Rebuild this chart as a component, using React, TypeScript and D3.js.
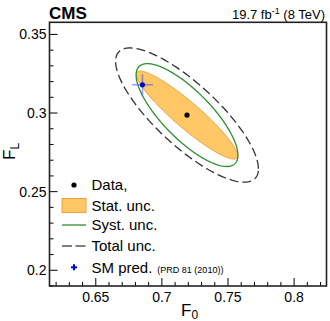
import * as d3 from 'd3';

// measured central value (F0, FL)
const dataPoint = [0.719, 0.2987];
// SM prediction (PRD 81 (2010))
const smPred = [0.6853, 0.318];

// uncertainty contours, drawn back to front
const contourNames = ['total', 'stat', 'syst'];
const sigmaF0 = [0.054, 0.0383, 0.0385];
const sigmaFL = [0.0427, 0.028, 0.0327];
const corr = [-0.8, -0.925, -0.78];

const xTicks = [0.65, 0.7, 0.75, 0.8];
const yTicks = [0.2, 0.25, 0.3, 0.35];

const legendLabels = ['Data,', 'Stat. unc.', 'Syst. unc.', 'Total unc.', 'SM pred.'];

const W = 330;
const H = 321;
const margin = { left: 49.5, right: 3.5, top: 22.3, bottom: 35 };

const font = '"Liberation Sans", Arial, sans-serif';

function App() {
  const x = d3.scaleLinear().domain([0.615, 0.8245]).range([margin.left, W - margin.right]);
  const y = d3.scaleLinear().domain([0.19, 0.3577]).range([H - margin.bottom, margin.top]);

  const line = d3.line<[number, number]>()
    .x(d => x(d[0]))
    .y(d => y(d[1]))
    .curve(d3.curveLinearClosed);

  const ellipse = (i: number) => {
    const pts: [number, number][] = d3.range(0, 240).map(k => {
      const t = (k / 240) * 2 * Math.PI;
      const r = corr[i];
      return [
        dataPoint[0] + sigmaF0[i] * Math.cos(t),
        dataPoint[1] + sigmaFL[i] * (r * Math.cos(t) + Math.sqrt(1 - r * r) * Math.sin(t)),
      ];
    });
    return line(pts) || '';
  };

  const style: Record<string, any> = {
    total: { fill: 'none', stroke: '#333', strokeWidth: 1.3, strokeDasharray: '9,4' },
    stat: { fill: '#ffc765', stroke: '#e9a23b', strokeWidth: 1 },
    syst: { fill: 'none', stroke: '#2f8f2f', strokeWidth: 1.3 },
  };

  const xMinor = d3.range(62, 83).map(v => v / 100);
  const yMinor = d3.range(19, 36).map(v => v / 100);
  const bottom = H - margin.bottom;

  const legY = [185, 205.5, 225, 246, 267.3];
  const legX = 74;

  const cross = (cx: number, cy: number, s: number, op: number) => (
    <g>
      <line x1={cx - s} x2={cx + s} y1={cy} y2={cy} stroke="#3030ff" strokeWidth={1.6} opacity={op} />
      <line x1={cx} x2={cx} y1={cy - s} y2={cy + s} stroke="#3030ff" strokeWidth={1.6} opacity={op} />
      <circle cx={cx} cy={cy} r={2.6} fill="#0000cc" />
    </g>
  );

  return (
    <svg width={W} height={H} style={{ position: 'absolute', left: 0, top: 0 }} fontFamily={font}>
      <rect width={W} height={H} fill="white" />

      {contourNames.map((n, i) => (
        <path key={n} d={ellipse(i)} {...style[n]} />
      ))}

      <circle cx={x(dataPoint[0])} cy={y(dataPoint[1])} r={2.6} fill="black" />
      {cross(x(smPred[0]), y(smPred[1]), 10.5, 0.45)}

      {/* ticks */}
      {xMinor.map(v => {
        const major = xTicks.some(t => Math.abs(t - v) < 1e-6);
        return <line key={'xm' + v} x1={x(v)} x2={x(v)} y1={bottom} y2={bottom - (major ? 8 : 4)} stroke="black" strokeWidth={1} />;
      })}
      {yMinor.map(v => {
        const major = yTicks.some(t => Math.abs(t - v) < 1e-6);
        return <line key={'ym' + v} x1={margin.left} x2={margin.left + (major ? 8 : 4)} y1={y(v)} y2={y(v)} stroke="black" strokeWidth={1} />;
      })}

      <rect x={margin.left} y={margin.top} width={W - margin.left - margin.right} height={bottom - margin.top}
        fill="none" stroke="#222" strokeWidth={1.6} />

      {xTicks.map(t => (
        <text key={'xt' + t} x={x(t)} y={302} textAnchor="middle" fontSize={14}>{t}</text>
      ))}
      {yTicks.map(t => (
        <text key={'yt' + t} x={46.5} y={y(t) + 5} textAnchor="end" fontSize={14}>{t}</text>
      ))}

      <text x={181} y={316} fontSize={17}>F<tspan fontSize={12} dy={3}>0</tspan></text>
      <text transform="translate(15,160) rotate(-90)" fontSize={17}>F<tspan fontSize={12} dy={4}>L</tspan></text>

      <text x={49} y={18.5} fontSize={17} fontWeight="bold">CMS</text>
      <text x={325} y={18.5} textAnchor="end" fontSize={13}>
        19.7 fb<tspan fontSize={9} dy={-5}>-1</tspan><tspan dy={5}> (8 TeV)</tspan>
      </text>

      {/* legend */}
      <circle cx={legX} cy={legY[0]} r={2.6} fill="black" />
      <rect x={62} y={legY[1] - 7} width={24} height={14} fill={style.stat.fill} stroke={style.stat.stroke} />
      <line x1={62} x2={86} y1={legY[2]} y2={legY[2]} stroke={style.syst.stroke} strokeWidth={1.3} />
      <line x1={62} x2={86} y1={legY[3]} y2={legY[3]} stroke="#555" strokeWidth={1.3} strokeDasharray="10,3.5" />
      <line x1={legX - 3} x2={legX + 3} y1={legY[4]} y2={legY[4]} stroke="#0000dd" strokeWidth={2} />
      <line x1={legX} x2={legX} y1={legY[4] - 3} y2={legY[4] + 3} stroke="#0000dd" strokeWidth={2} />
      {legendLabels.map((l, i) => (
        <text key={l} x={91.5} y={legY[i] + 5.3} fontSize={15}>
          {l}
          {i === 4 && <tspan fontSize={9} dx={5}>(PRD 81 (2010))</tspan>}
        </text>
      ))}
    </svg>
  );
}

export default App;
